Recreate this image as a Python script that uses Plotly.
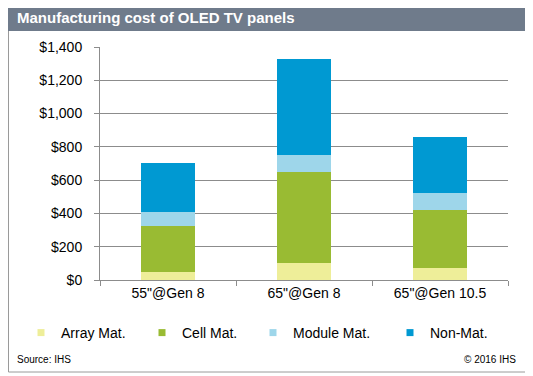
import plotly.graph_objects as go

categories = ['55"@Gen 8', '65"@Gen 8', '65"@Gen 10.5']
array_mat = [50, 100, 70]
cell_mat = [275, 550, 350]
module_mat = [85, 100, 100]
non_mat = [295, 575, 340]
series_names = ["Array Mat.", "Cell Mat.", "Module Mat.", "Non-Mat."]
series_colors = ["#EEEE99", "#99BB33", "#9ED6EA", "#0099D2"]
y_ticks = [0, 200, 400, 600, 800, 1000, 1200, 1400]

# page body has an 8px default margin, so the figure is 8px smaller
OFF = 8
W, H = 533 - OFF, 376 - OFF
L, R, T, B = 100 - OFF, 25, 47 - OFF, 96
PW, PH = W - L - R, H - T - B

def px(x):  # window x -> paper
    return (x - OFF - L) / PW

def py(y):  # window y -> paper
    return (H - B - (y - OFF)) / PH

FONT = "Arial, Liberation Sans, sans-serif"
fig = go.Figure()
series_values = [array_mat, cell_mat, module_mat, non_mat]
legend_ids = ["legend", "legend2", "legend3", "legend4"]
for name, vals, col, lg in zip(series_names, series_values, series_colors, legend_ids):
    fig.add_trace(go.Bar(x=categories, y=vals, name=name, marker_color=col,
                         marker_line_width=0, showlegend=False, hoverinfo="y+name"))
    fig.add_trace(go.Scatter(x=[None], y=[None], mode="markers", name=name,
                             marker=dict(symbol="square", size=7, color=col),
                             legend=lg, showlegend=True))

text_starts = [61, 182, 293, 430]
legend_cfg = {}
for lg, ts in zip(legend_ids, text_starts):
    legend_cfg[lg] = dict(x=px(ts - 40), y=py(333), xanchor="left", yanchor="middle",
                          orientation="h", bgcolor="rgba(0,0,0,0)",
                          font=dict(family=FONT, size=14, color="#000000"))

fig.update_layout(
    width=W, height=H, margin=dict(l=L, r=R, t=T, b=B),
    paper_bgcolor="white", plot_bgcolor="white",
    barmode="stack", bargap=0.6,
    font=dict(family=FONT, size=14, color="#000000"),
    xaxis=dict(showline=True, linecolor="#8C8C8C", linewidth=1, ticks="outside",
               tickson="boundaries", ticklen=5, tickcolor="#8C8C8C", showgrid=False,
               tickfont=dict(size=14)),
    yaxis=dict(range=[0, 1400], tickvals=y_ticks,
               ticktext=["$" + format(v, ",") for v in y_ticks],
               showline=True, linecolor="#8C8C8C", linewidth=1, ticks="outside",
               ticklen=5, tickcolor="#8C8C8C", showgrid=True, gridcolor="#8C8C8C",
               gridwidth=1, zeroline=False, ticklabelstandoff=9,
               tickfont=dict(size=14)),
    shapes=[
        dict(type="rect", xref="paper", yref="paper", x0=px(8.5), x1=px(526),
             y0=py(372), y1=py(3), line=dict(color="#9A9A9A", width=1),
             fillcolor="rgba(0,0,0,0)", layer="below"),
        dict(type="rect", xref="paper", yref="paper", x0=px(8), x1=px(527),
             y0=py(31), y1=py(3), line=dict(width=0), fillcolor="#6F7B8B",
             layer="below"),
    ],
    annotations=[
        dict(text="<b>Manufacturing cost of OLED TV panels</b>", xref="paper", yref="paper",
             x=px(15), y=py(17), xanchor="left", yanchor="middle", showarrow=False,
             font=dict(family=FONT, size=15, color="white")),
        dict(text="Source: IHS", xref="paper", yref="paper", x=px(15), y=py(359),
             xanchor="left", yanchor="middle", showarrow=False,
             font=dict(family=FONT, size=10, color="#000000")),
        dict(text="© 2016 IHS", xref="paper", yref="paper", x=px(518), y=py(359),
             xanchor="right", yanchor="middle", showarrow=False,
             font=dict(family=FONT, size=10, color="#000000")),
    ],
    **legend_cfg,
)

fig.write_html("out.html")
